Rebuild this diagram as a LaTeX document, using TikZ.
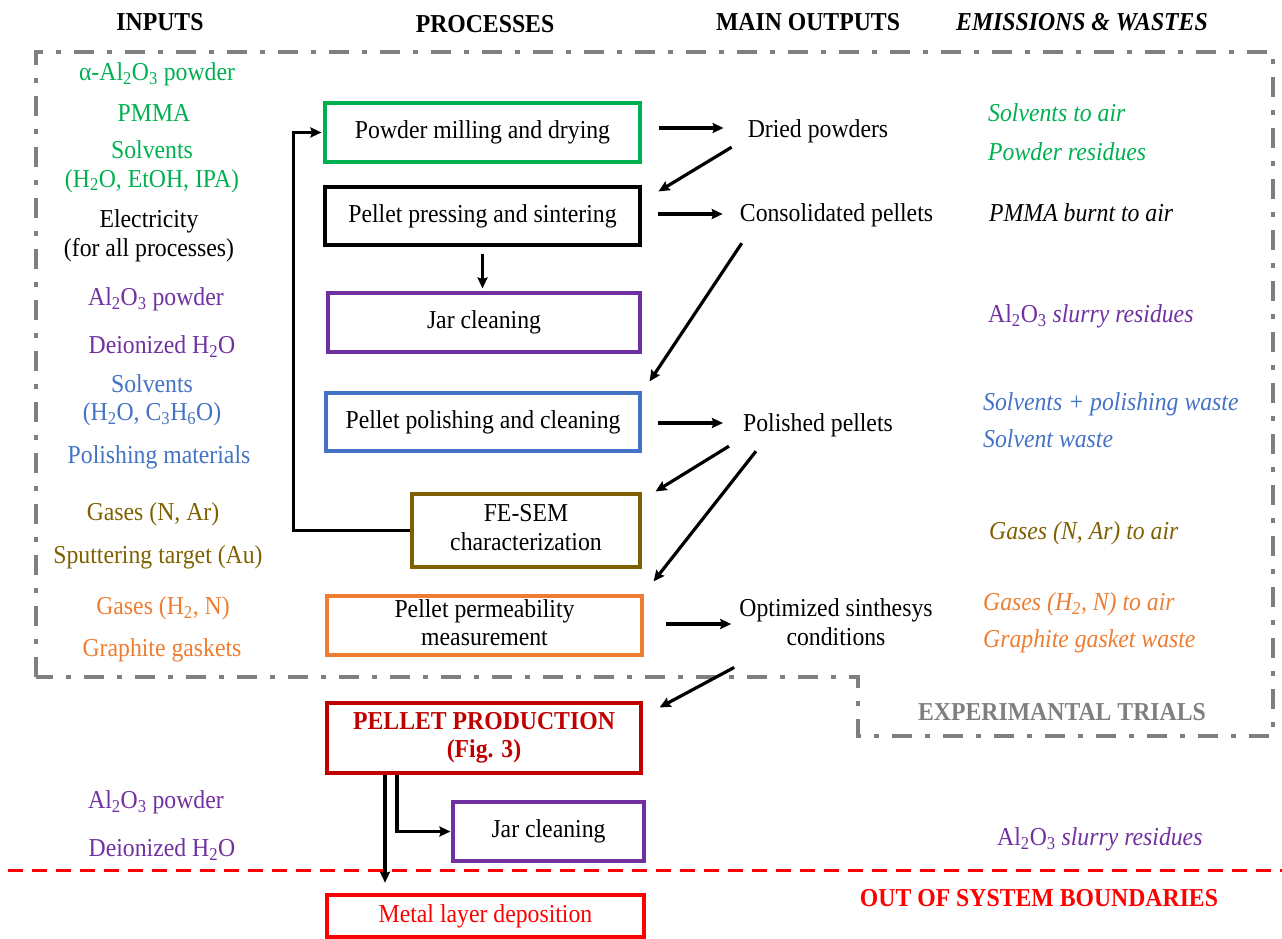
\documentclass[tikz,border=0pt]{standalone}
\usepackage{fontspec}
\setmainfont[FakeStretch=0.92]{Liberation Serif}
\usetikzlibrary{arrows.meta,calc}
\definecolor{cgreen}{HTML}{00B050}
\definecolor{cpurple}{HTML}{7030A0}
\definecolor{cblue}{HTML}{4472C4}
\definecolor{cbrown}{HTML}{7F6000}
\definecolor{corange}{HTML}{ED7D31}
\definecolor{cdkred}{HTML}{C00000}
\definecolor{cred}{HTML}{FF0000}
\definecolor{cgrey}{HTML}{7F7F7F}
\newcommand{\fs}{\fontsize{25.8pt}{28.5pt}\selectfont}
\newcommand{\zs}{\rule[-6pt]{0pt}{18pt}}
\newcommand{\sbs}[1]{\textsubscript{#1}}
\begin{document}
\begin{tikzpicture}[x=1pt,y=-1pt,
  every node/.style={font=\fs, inner sep=0pt},
  hdr/.style={font=\fs\bfseries},
  pbox/.style={draw=#1, line width=3.1pt, align=center},
  txt/.style={anchor=base, text=#1},
  mtxt/.style={anchor=center, align=center, text=#1},
  emi/.style={anchor=base west, text=#1, font=\fs\itshape},
  arr/.style={line width=3.2pt, -{Stealth[length=11pt,width=10pt,inset=1.5pt]}},
  bound/.style={draw=cgrey, line width=4.5pt, dash pattern=on 20pt off 13pt on 5pt off 13pt},
  redline/.style={draw=cred, line width=3pt, dash pattern=on 15pt off 9pt}]
\useasboundingbox (0,0) rectangle (1282,939);

% boundaries
\draw[bound] (36,677) -- (36,52) -- (1273,52) -- (1273,736) -- (858,736) -- (858,677) -- cycle;
\draw[redline] (8,870) -- (1282,870);

% headers
\node[hdr, anchor=base] (hin) at (160,30.5) {INPUTS};
\node[hdr, anchor=base] (hpr) at (485,33) {PROCESSES};
\node[hdr, anchor=base] (hmo) at (808,30.5) {MAIN OUTPUTS};
\node[hdr, anchor=base] (hem) at (1082,30.5) {\itshape EMISSIONS \& WASTES};

% inputs
\node[txt=cgreen] (i1) at (157,80.5) {α-Al\sbs{2}O\sbs{3} powder};
\node[txt=cgreen] (i2) at (154,121.5) {PMMA};
\node[mtxt=cgreen] (i3) at (152,167) {\zs Solvents\\(H\sbs{2}O, EtOH, IPA)\zs};
\node[mtxt=black] (i4) at (149,236) {\zs Electricity\\(for all processes)\zs};
\node[txt=cpurple] (i5) at (156,305.5) {Al\sbs{2}O\sbs{3} powder};
\node[txt=cpurple] (i6) at (162,353.5) {Deionized H\sbs{2}O};
\node[mtxt=cblue] (i7) at (152,400.5) {\zs Solvents\\(H\sbs{2}O, C\sbs{3}H\sbs{6}O)\zs};
\node[txt=cblue] (i8) at (159,463.5) {Polishing materials};
\node[txt=cbrown] (i9) at (153,520.5) {Gases (N, Ar)};
\node[txt=cbrown] (i10) at (158,563.5) {Sputtering target (Au)};
\node[txt=corange] (i11) at (163,614.5) {Gases (H\sbs{2}, N)};
\node[txt=corange] (i12) at (162,656.5) {Graphite gaskets};
\node[txt=cpurple] (i13) at (156,808.5) {Al\sbs{2}O\sbs{3} powder};
\node[txt=cpurple] (i14) at (162,856.5) {Deionized H\sbs{2}O};

% process boxes
\node[pbox=cgreen, minimum width=315, minimum height=59] (mill) at (482.5,132.5) {Powder milling and drying};
\node[pbox=black, minimum width=315, minimum height=58] (press) at (482.5,216) {Pellet pressing and sintering};
\node[pbox=cpurple, minimum width=312, minimum height=59] (jar) at (484,322.5) {Jar cleaning};
\node[pbox=cblue, minimum width=314, minimum height=58] (polish) at (483,422) {Pellet polishing and cleaning};
\node[pbox=cbrown, minimum width=228, minimum height=73] (fesem) at (526,530.5) {\zs FE-SEM\\characterization\zs};
\node[pbox=corange, minimum width=315, minimum height=59] (perm) at (484.5,625.5) {\zs Pellet permeability\\measurement\zs};
\node[pbox=cdkred, minimum width=314, minimum height=70, text=cdkred, font=\fs\bfseries] (prod) at (484,738) {\zs PELLET PRODUCTION\\(Fig. 3)\zs};
\node[pbox=cpurple, minimum width=191, minimum height=59] (jar2) at (548.5,831.5) {Jar cleaning};
\node[pbox=cred, line width=4.5pt, minimum width=317, minimum height=42, text=cred] (metal) at (485.5,916) {Metal layer deposition};

% main outputs
\node[txt=black] (dried) at (818,137.5) {Dried powders};
\node[txt=black] (cons) at (836.5,221.5) {Consolidated pellets};
\node[txt=black] (pol) at (818,431.5) {Polished pellets};
\node[mtxt=black] (opt) at (836,625) {\zs Optimized sinthesys\\conditions\zs};

% emissions
\node[emi=cgreen] (e1) at (988,121.5) {Solvents to air};
\node[emi=cgreen] (e2) at (988,160.5) {Powder residues};
\node[emi=black] (e3) at (989,221.5) {PMMA burnt to air};
\node[emi=cpurple] (e4) at (988,322.5) {\upshape Al\sbs{2}O\sbs{3} \itshape slurry residues};
\node[emi=cblue] (e5) at (983,410.5) {Solvents + polishing waste};
\node[emi=cblue] (e6) at (983,447.5) {Solvent waste};
\node[emi=cbrown] (e7) at (989,539.5) {Gases (N, Ar) to air};
\node[emi=corange] (e8) at (983,610.5) {Gases (H\sbs{2}, N) to air};
\node[emi=corange] (e9) at (983,647.5) {Graphite gasket waste};
\node[emi=cpurple] (e10) at (997,845.5) {\upshape Al\sbs{2}O\sbs{3} \itshape slurry residues};

\node[anchor=base, text=cgrey, font=\fs\bfseries] (exp) at (1062,720.5) {EXPERIMANTAL TRIALS};
\node[anchor=base, text=cred, font=\fs\bfseries] (oos) at (1039,906.5) {OUT OF SYSTEM BOUNDARIES};

% arrows
\draw[arr] ($(mill.east)+(17,-4.5)$) coordinate (s1) -- ($(s1 -| dried.west)+(-24,0)$);
\draw[arr] ($(dried.south west)+(-16,4)$) -- ($(press.north east)+(17,6)$);
\draw[arr] ($(press.east)+(16,-2)$) coordinate (s2) -- ($(s2 -| cons.west)+(-17,0)$);
\draw[arr] ($(cons.south west)+(2,16)$) -- ($(polish.north east)+(8,-10)$);
\draw[arr] ($(press.south)+(0,7)$) -- ($(press.south |- jar.north)+(0,-3)$);
\draw[arr] ($(polish.east)+(16,1)$) coordinate (s3) -- ($(s3 -| pol.west)+(-20,0)$);
\draw[arr] ($(pol.south west)+(-14,9)$) -- ($(fesem.north east)+(14,-1)$);
\draw[arr] ($(pol.south west)+(13,14)$) -- ($(perm.north east)+(10,-13)$);
\draw[arr] ($(perm.east)+(22,-1.5)$) coordinate (s4) -- ($(s4 -| opt.west)+(-8,0)$);
\draw[arr] ($(opt.south west)+(-5,16)$) -- ($(prod.north east)+(17,6)$);
\draw[arr] (fesem.west) -| ($(mill.west)+(-30,0)$) -- ($(mill.west)+(-2,0)$);
\draw[arr] ($(prod.south)+(-87,0)$) |- ($(jar2.west)+(-1,0)$);
\draw[arr] ($(prod.south)+(-99,0)$) coordinate (p1) -- ($(p1 |- metal.north)+(0,-10)$);
\end{tikzpicture}
\end{document}
